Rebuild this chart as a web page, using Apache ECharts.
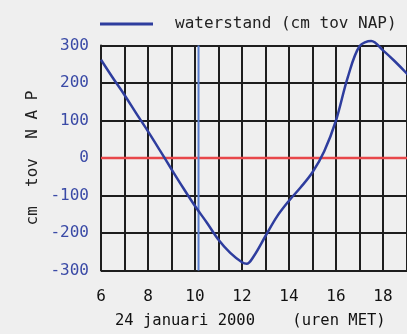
<!DOCTYPE html>
<html>
<head>
<meta charset="utf-8">
<script src="https://cdn.jsdelivr.net/npm/echarts@6/dist/echarts.min.js"></script>
<style>
html,body{margin:0;padding:0;background:#efefef;}
#c{width:407px;height:334px;}
</style>
</head>
<body>
<div id="c"></div>
<script>
// data
const hours = [6.0, 6.5, 7.0, 7.5, 8.0, 8.5, 9.0, 9.5, 10.0, 10.5, 11.0, 11.5, 12.0, 12.2, 12.5, 13.0, 13.5, 14.0, 14.5, 15.0, 15.5, 16.0, 16.5, 17.0, 17.5, 18.0, 18.5, 19.0, 19.5];
const waterstand = [262, 214, 168, 119, 71, 21, -30, -80, -128, -172, -218, -253, -278, -282, -262, -208, -155, -114, -78, -38, 18, 100, 215, 298, 312, 287, 258, 226, 190];
const yTicks = [-300, -200, -100, 0, 100, 200, 300];
const xTickLabels = [6, 8, 10, 12, 14, 16, 18];
const zeroLevel = 0;
const nowHour = 10.15;
const seriesName = 'waterstand (cm tov NAP)';
const xTitle = '24 januari 2000    (uren MET)';
const yTitle = 'cm  tov  N A P';

const FONT = 'DejaVu Sans Mono';
const chart = echarts.init(document.getElementById('c'), null, {renderer: 'canvas'});
const curve = hours.map((h, i) => [h, waterstand[i]]);

chart.setOption({
  backgroundColor: '#efefef',
  animation: false,
  grid: {left: 101, top: 45.5, width: 329, height: 225, containLabel: false, outerBoundsMode: 'none'},
  legend: {
    data: [seriesName],
    left: 100, top: 16, padding: 0,
    icon: 'rect', itemWidth: 53, itemHeight: 3,
    textStyle: {fontFamily: FONT, fontSize: 16, color: '#222', padding: [0, 0, 0, 17]}
  },
  xAxis: {
    type: 'value', min: 6, max: 20, interval: 1,
    axisLine: {show: false},
    axisTick: {show: false},
    axisLabel: {
      fontFamily: FONT, fontSize: 16, color: '#111', margin: 18,
      formatter: v => xTickLabels.indexOf(v) >= 0 ? String(v) : ''
    },
    splitLine: {show: true, lineStyle: {color: '#1e1e1e', width: 2}}
  },
  yAxis: {
    type: 'value', min: yTicks[0], max: yTicks[yTicks.length - 1], interval: 100,
    axisLine: {show: true, lineStyle: {color: '#1e1e1e', width: 2}},
    axisTick: {show: false},
    axisLabel: {fontFamily: FONT, fontSize: 16, color: '#3a4aa6', margin: 12},
    splitLine: {show: true, lineStyle: {color: '#1e1e1e', width: 2}}
  },
  graphic: [
    {type: 'text', left: 115, top: 313,
     style: {text: xTitle, font: '15.5px "DejaVu Sans Mono"', fill: '#111'}},
    {type: 'text', x: 33, y: 158, rotation: Math.PI / 2,
     style: {text: yTitle, font: '16px "DejaVu Sans Mono"', fill: '#222', align: 'center', verticalAlign: 'middle'}}
  ],
  series: [
    {
      name: 'zero', type: 'line', data: [[6, zeroLevel], [20, zeroLevel]],
      symbol: 'none', lineStyle: {color: '#e8474a', width: 2.5}, z: 3, silent: true
    },
    {
      name: 'now', type: 'line', data: [[nowHour, yTicks[0]], [nowHour, yTicks[yTicks.length - 1]]],
      symbol: 'none', lineStyle: {color: '#5a7fd0', width: 2}, z: 3, silent: true
    },
    {
      name: seriesName, type: 'line', data: curve, smooth: 0.35, clip: false,
      symbol: 'none', color: '#2e3d9e', lineStyle: {color: '#2e3d9e', width: 2.5}, z: 5
    }
  ]
});
</script>
</body>
</html>
